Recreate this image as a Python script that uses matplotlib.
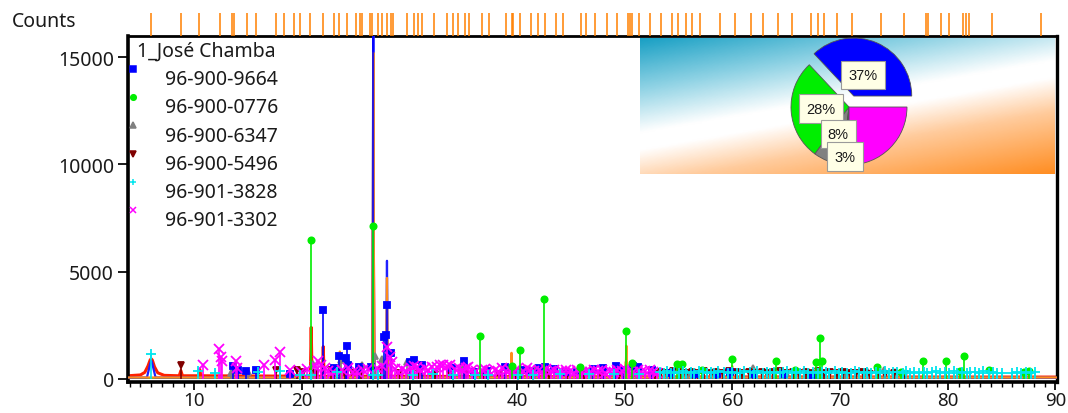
import numpy as np
import matplotlib
matplotlib.use("Agg")
from matplotlib import pyplot as plt
from matplotlib.colors import LinearSegmentedColormap

plt.rcParams["font.family"] = ["Noto Sans", "DejaVu Sans"]

# ---------------- data ----------------
sample_name = "1_José Chamba"
phase_names = ["96-900-9664", "96-900-0776", "96-900-6347",
               "96-900-5496", "96-901-3828", "96-901-3302"]

# measured scan (blue), calculated profile (orange), background-ish trace (red)
scan_x = [3.84, 5.6, 5.9, 6.0, 6.1, 6.4, 26.55, 26.63, 26.71, 27.82, 27.9, 27.98, 90.1]
scan_y = [50, 60, 700, 850, 700, 60, 60, 17500, 60, 60, 5500, 60, 50]

calc_x = [3.84, 23.45, 23.52, 23.59, 26.55, 26.63, 26.71, 27.82, 27.9, 27.98,
          39.4, 39.47, 39.54, 50.07, 50.14, 50.21, 59.9, 59.97, 60.04,
          68.08, 68.15, 68.22, 90.1]
calc_y = [60, 60, 1270, 60, 60, 15200, 60, 60, 4700, 60,
          60, 1210, 60, 60, 1540, 60, 60, 600, 60,
          60, 500, 60, 60]

red_x = [3.84, 5.0, 5.4, 5.7, 5.9, 6.0, 6.1, 6.3, 6.6, 7.2,
         8.6, 8.75, 8.9, 10.4, 10.5, 10.6, 20.78, 20.86, 20.94, 21.9,
         21.98, 22.06, 26.55, 26.63, 26.71, 27.82, 27.9, 27.98, 39.4, 39.47,
         39.54, 50.07, 50.14, 50.21, 90.1]
red_y = [140, 180, 300, 600, 880, 930, 870, 560, 280, 160,
         140, 380, 140, 140, 450, 140, 120, 2400, 120, 120,
         1500, 120, 120, 7000, 120, 120, 1000, 120, 100, 500,
         100, 90, 800, 90, 80]

bg_x = [3.84, 90.1]
bg_y = [20, 20]

# phase 96-900-9664 (blue squares)
p1_pos = [13.64, 14.04, 14.83, 15.76, 18.93, 21.98, 23.0, 23.47, 24.1, 24.22,
          24.28, 25.28, 26.4, 26.63, 27.6, 27.77, 27.86, 28.23, 30.0, 30.38,
          31.16, 33.96, 35.05, 36.0, 37.2, 38.85, 40.4, 41.2, 42.0, 42.6,
          43.4, 44.5, 45.6, 47.05, 48.0, 49.2, 49.8, 50.76, 51.2, 52.5,
          54.2, 56.5, 58.6, 59.8, 61.9, 64.8, 67.5]
p1_h = [600, 390, 340, 390, 230, 3220, 500, 1040, 980, 1550,
        650, 560, 545, 16500, 1970, 2020, 3450, 1200, 800, 890,
        620, 500, 810, 300, 350, 570, 400, 350, 480, 560,
        440, 300, 320, 440, 510, 575, 420, 575, 545, 430,
        250, 230, 220, 300, 240, 200, 180]

# phase 96-900-0776 (green circles)
p2_pos = [20.86, 26.64, 36.54, 39.47, 40.29, 42.45, 45.79, 50.14, 50.62, 54.87,
          55.33, 57.21, 59.96, 64.03, 65.79, 67.74, 68.14, 68.31, 73.46, 75.66,
          77.67, 79.88, 81.17, 81.49, 83.84, 87.07, 87.52]
p2_h = [6490, 7100, 2000, 590, 1350, 3700, 545, 2220, 730, 670,
        700, 420, 900, 820, 390, 760, 1900, 850, 570, 330,
        850, 810, 370, 1040, 400, 300, 340]

# phase 96-900-6347 (grey triangles)
p3_pos = [13.41, 15.02, 21.06, 23.6, 25.6, 26.82, 27.45, 29.74, 34.79, 41.66,
          44.0, 46.9, 51.0, 55.9, 58.4, 61.95, 65.0, 70.5, 72.6, 74.1, 75.1]
p3_h = [280, 310, 700, 885, 650, 1040, 930, 800, 570, 470,
        300, 280, 250, 260, 300, 510, 250, 280, 300, 400, 300]

# phase 96-900-5496 (dark red down triangles)
p4_pos = [8.74, 17.6, 19.52, 20.1, 21.3, 22.68, 23.3, 24.0, 24.76, 25.5,
          27.3, 29.0, 30.9, 32.4, 33.8, 35.2, 36.9, 38.3, 39.9, 41.4,
          43.0, 44.6, 46.2, 47.8, 49.5, 51.2, 52.8, 53.4, 53.9, 54.5,
          55.1, 55.7, 56.2, 56.8, 57.4, 58.0, 58.5, 59.1, 59.7, 60.3,
          60.9, 61.5, 62.1, 62.7, 63.2, 63.8, 64.4, 65.0, 65.6, 66.2,
          66.8, 67.3, 67.9, 68.5, 69.1, 69.7, 70.3, 70.9, 71.5, 72.1,
          72.8, 73.5, 74.2, 75.0, 76.0]
p4_h = [650, 390, 430, 300, 280, 390, 300, 250, 280, 300,
        400, 280, 250, 220, 200, 240, 210, 230, 200, 250,
        220, 210, 240, 230, 210, 250, 240, 320, 280, 340,
        300, 260, 330, 290, 350, 270, 310, 280, 340, 300,
        260, 320, 290, 330, 270, 310, 350, 280, 300, 260,
        320, 290, 340, 270, 300, 250, 310, 280, 260, 300,
        240, 280, 220, 250, 200]

# phase 96-901-3828 (cyan plus)
p5_pos = [6.0, 10.3, 11.92, 15.95, 17.96, 19.82, 20.8, 23.23, 26.64, 27.1,
          30.35, 32.2, 34.07, 36.09, 37.33, 40.11, 41.5, 44.0, 46.7, 49.0,
          51.3,
          53.3, 53.6, 53.9, 54.3, 54.6, 55.0, 55.4, 55.7, 56.1, 56.4,
          56.9, 57.3, 57.6, 58.0, 58.3, 58.7, 59.2, 59.6, 60.0, 60.4,
          60.7, 61.1, 61.6, 62.0, 62.3, 62.8, 63.2, 63.5, 63.9, 64.4,
          64.7, 65.1, 65.5, 65.9, 66.3, 66.6, 67.0, 67.5, 67.9, 68.3,
          68.7, 69.0, 69.5, 69.9, 70.2, 70.6, 71.0, 71.4, 71.8, 72.2,
          72.5, 72.9, 73.3, 73.7, 74.2, 74.5, 74.9, 75.3, 75.8, 76.1,
          76.5, 76.9, 77.3, 77.8, 78.1, 78.5, 78.9, 79.3, 79.7, 80.1,
          80.6, 80.9, 81.3, 81.8, 82.1, 82.5, 82.9, 83.3, 83.8, 84.2,
          84.6, 85.0, 86.0, 86.4, 86.8, 87.3, 87.7, 88.1]
p5_h = [1160, 340, 280, 310, 340, 190, 190, 320, 190, 190,
        190, 210, 190, 190, 190, 190, 190, 200, 200, 210,
        200,
        300, 260, 340, 280, 320, 250, 360, 290, 310, 270,
        340, 300, 260, 330, 280, 350, 300, 270, 320, 290,
        260, 340, 300, 280, 350, 270, 310, 290, 330, 260,
        300, 350, 280, 320, 270, 340, 290, 310, 260, 330,
        300, 280, 350, 270, 320, 290, 260, 340, 300, 280,
        330, 270, 310, 290, 350, 260, 320, 300, 280, 340,
        270, 310, 290, 330, 260, 300, 350, 280, 320, 270,
        340, 290, 310, 260, 330, 300, 280, 350, 270, 320,
        290, 260, 280, 300, 260, 320, 280, 300]

# phase 96-901-3302 (magenta crosses)
p6_pos = [10.84, 12.33, 12.45, 12.55, 13.85, 13.95, 16.48, 17.50, 17.97,
          18.9, 19.9, 20.5, 21.2, 21.52, 21.75, 22.1, 22.45, 22.92, 23.7,
          24.31, 24.7, 25.09, 25.7, 26.1, 27.0, 27.4, 27.94, 28.19, 28.37,
          28.65, 28.96,
          29.3, 29.7, 30.1, 30.4, 30.67, 31.0, 31.4, 31.75, 32.1, 32.53,
          32.8, 33.14, 33.5, 33.8, 34.2, 34.6, 34.9, 35.2, 35.47, 35.8,
          36.2, 36.71, 37.0, 37.4, 37.9, 38.3, 38.6, 39.0, 39.3, 39.7,
          40.0, 40.5, 40.9, 41.2, 41.6, 42.0, 42.3, 42.7, 43.1, 43.4,
          43.8, 44.2, 44.5, 44.9, 45.3, 45.6, 46.0, 46.4, 46.8, 47.1,
          47.5, 47.9, 48.2, 48.6, 49.0, 49.3, 49.7, 50.0, 50.4, 50.8,
          51.2, 51.5, 51.9, 52.3, 52.6, 53.0]
p6_h = [620, 1370, 1000, 850, 850, 500, 650, 885, 1240,
        390, 330, 450, 600, 850, 620, 500, 340, 320, 420,
        480, 300, 320, 390, 450, 500, 600, 1480, 1010, 780,
        470, 310,
        450, 380, 520, 600, 545, 420, 480, 390, 560, 545,
        650, 620, 580, 640, 470, 520, 400, 480, 545, 430,
        380, 390, 450, 360, 420, 330, 480, 360, 400, 310,
        450, 380, 520, 400, 350, 420, 330, 460, 380, 420,
        300, 360, 430, 350, 280, 400, 330, 380, 300, 420,
        350, 390, 280, 360, 320, 400, 350, 460, 380, 330,
        400, 300, 370, 420, 310, 280]

# reference line positions shown in the strip above the plot
ref_pos = [5.95, 8.74, 10.44, 12.39, 13.53, 13.72, 14.87, 15.73, 17.57, 18.31,
           19.24, 19.80, 20.78, 21.99, 22.98, 23.45, 24.19, 25.06, 25.40, 25.61,
           26.33, 26.54, 27.07, 27.44, 27.91, 28.25, 28.49, 29.74, 30.42, 30.79,
           31.16, 32.25, 33.51, 34.01, 34.47, 35.14, 35.48, 36.72, 37.34, 38.98,
           39.54, 39.65, 40.27, 41.28, 41.96, 42.57, 43.65, 44.21, 45.90, 46.41,
           47.19, 48.33, 49.28, 50.30, 50.46, 50.69, 51.31, 52.38, 53.39, 54.40,
           54.97, 55.65, 56.26, 56.94, 58.80, 60.20, 61.73, 62.80, 64.26, 65.56,
           67.30, 67.98, 68.54, 69.73, 71.13, 73.78, 75.92, 78.01, 78.18, 79.36,
           80.15, 81.38, 81.67, 82.01, 84.09, 88.65]

# semi-quantitative shares (pie)
shares = [37, 28, 8, 1.6, 0.4, 25]
share_labels = ["37%", "28%", "8%", "3%", "", ""]

# ---------------- styling ----------------
colors = ["#0000ff", "#00ee00", "#808080", "#800000", "#00e5ee", "#ff00ff"]
markers = ["s", "o", "^", "v", "+", "x"]
msizes = [5, 4.5, 5, 5, 7, 6.5]

W, H = 1068, 414
fig = plt.figure(figsize=(W / 100, H / 100), dpi=100)
ax = fig.add_axes([128 / W, 31 / H, 929 / W, 346 / H])

ax.plot(bg_x, bg_y, color="#00aa00", lw=1.2, zorder=1)
ax.plot(red_x, red_y, color="#ff2000", lw=2.2, zorder=2)
ax.plot(scan_x, scan_y, color="#2020ff", lw=1.6, zorder=3)
ax.plot(calc_x, calc_y, color="#ff8c1a", lw=1.6, zorder=4)

phases = [(p1_pos, p1_h), (p2_pos, p2_h), (p3_pos, p3_h),
          (p4_pos, p4_h), (p5_pos, p5_h), (p6_pos, p6_h)]
order_z = [6, 7, 5, 5, 8, 6.5]
for (pos, h), c, m, ms, z in zip(phases, colors, markers, msizes, order_z):
    ax.vlines(pos, 0, h, color=c, lw=1.2, zorder=z)
    ax.plot(pos, h, ls="none", marker=m, ms=ms, color=c, mew=1.3, zorder=z)

ax.set_xlim(3.84, 90.15)
ax.set_ylim(-150, 15980)
ax.set_xticks(np.arange(10, 91, 10))
ax.set_xticks(np.arange(4, 91, 1), minor=True)
ax.set_yticks([0, 5000, 10000, 15000])
ax.tick_params(axis="y", which="major", labelsize=14, length=7, width=1.4,
               colors="#1a1a1a", pad=3)
ax.tick_params(axis="x", which="major", labelsize=13.5, length=6, width=1.4,
               colors="#1a1a1a", pad=0.5)
ax.tick_params(axis="x", which="minor", length=3.5, width=1.0)
for side, lw in [("left", 2.6), ("bottom", 2.6), ("top", 2.0), ("right", 2.4)]:
    ax.spines[side].set_linewidth(lw)

fig.text(12 / W, 1 - 22 / H, "Counts", ha="left", va="center", fontsize=14,
         color="#1a1a1a")

# legend drawn by hand, as in the original software
ax.text(0.0097, 0.957, sample_name, transform=ax.transAxes, fontsize=14,
        va="center", ha="left", color="#1a1a1a", zorder=10)
for i, name in enumerate(phase_names):
    ty = 0.876 - i * 0.0818
    ax.plot([0.0054], [ty + 0.029], transform=ax.transAxes, ls="none",
            marker=markers[i], ms=4, color=colors[i], mew=1.1, clip_on=False,
            zorder=10)
    ax.text(0.0398, ty, name, transform=ax.transAxes, fontsize=14,
            va="center", ha="left", color="#1a1a1a", zorder=10)

# reference strip above the axes
sax = fig.add_axes([128 / W, 377 / H, 929 / W, 23 / H], sharex=ax)
sax.vlines(ref_pos, 0, 1, color="#ff8000", lw=1.1)
sax.set_ylim(0, 1)
sax.axis("off")

# gradient panel with the pie chart
gax = fig.add_axes([640 / W, 1 - 175 / H, 415 / W, 136 / H], zorder=3)
u = np.linspace(0, 415, 300)
v = np.linspace(0, 136, 120)
U, V = np.meshgrid(u, v)
t = np.clip((V - 25 - 0.176 * U + 100) / 215, 0, 1)
bg_cmap = LinearSegmentedColormap.from_list(
    "bg", [(0, "#ff8c1f"), (0.3, "#ffcb9c"), (0.46, "#ffffff"),
           (0.54, "#ffffff"), (0.75, "#8ed2e4"), (1, "#109cc2")])
gax.imshow(t, origin="lower", cmap=bg_cmap, extent=[0, 1, 0, 1],
           aspect="auto", vmin=0, vmax=1)
gax.axis("off")

pax = fig.add_axes([(849 - 72.5) / W, 1 - (108 + 72.5) / H, 145 / W, 145 / H],
                   zorder=4)
wedges, _ = pax.pie(shares, colors=colors, startangle=0, counterclock=True,
                    radius=0.8, explode=[0.165, 0, 0, 0, 0, 0],
                    wedgeprops=dict(edgecolor="#555555", linewidth=0.6))
label_r = [0.6, 0.48, 0.5, 0.86, 0, 0]
for w, lab, r in zip(wedges, share_labels, label_r):
    if not lab:
        continue
    ang = np.deg2rad((w.theta1 + w.theta2) / 2)
    pax.text(r * 0.8 * np.cos(ang), r * 0.8 * np.sin(ang), lab,
             ha="center", va="center", fontsize=10.5, family="Liberation Sans",
             color="#1a1a1a",
             bbox=dict(boxstyle="square,pad=0.5", fc="#ffffe6", ec="#9a9a9a",
                       lw=0.8))
pax.set_xlim(-1, 1)
pax.set_ylim(-1, 1)
pax.axis("off")

fig.savefig("out.png", dpi=100)
